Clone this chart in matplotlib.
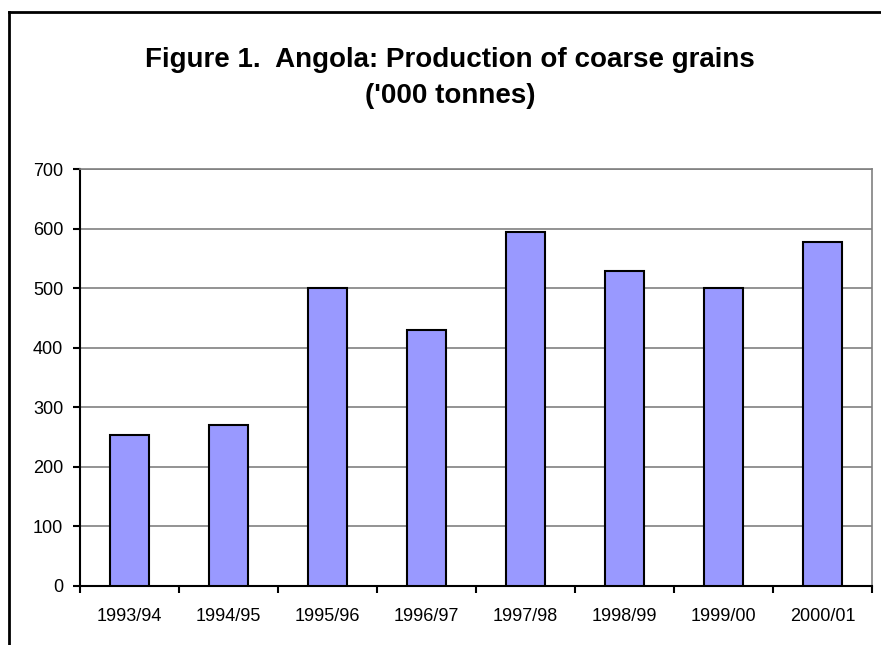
import matplotlib
matplotlib.use("Agg")
import matplotlib.pyplot as plt
from matplotlib.lines import Line2D
import numpy as np

# Production of coarse grains, '000 tonnes
seasons = ["1993/94", "1994/95", "1995/96", "1996/97", "1997/98", "1998/99", "1999/00", "2000/01"]
production = [253, 270, 500, 430, 595, 528, 500, 578]
yticks = [0, 100, 200, 300, 400, 500, 600, 700]

plt.rcParams['font.family'] = ['Liberation Sans', 'DejaVu Sans']

fig = plt.figure(figsize=(8.81, 6.45), dpi=100)
ax = fig.add_axes([80 / 881, 1 - 586 / 645, 792 / 881, 417 / 645])

x = np.arange(len(seasons))
ax.bar(x, production, width=0.4, color="#9999FF", edgecolor="black", linewidth=1.5, zorder=3)

ax.set_xlim(-0.5, len(seasons) - 0.5)
ax.set_ylim(0, 700)
ax.set_yticks(yticks)
ax.yaxis.grid(True, color="#808080", linewidth=1.2, zorder=0)

# ticks between the categories, labels centred under the bars
ax.set_xticks(np.arange(len(seasons) + 1) - 0.5)
ax.set_xticklabels([])
ax.set_xticks(x, minor=True)
ax.set_xticklabels(seasons, minor=True, fontsize=13)
ax.tick_params(axis="x", which="minor", length=0, pad=16)
ax.tick_params(axis="x", which="major", length=5, width=1.5, direction="out")
ax.tick_params(axis="y", length=5, width=1.5, direction="out", labelsize=13, pad=7)

for s in ["left", "bottom"]:
    ax.spines[s].set_linewidth(1.5)
    ax.spines[s].set_color("black")
for s in ["top", "right"]:
    ax.spines[s].set_linewidth(1.2)
    ax.spines[s].set_color("#808080")

fig.text(450 / 881, 1 - 67 / 645, "Figure 1.  Angola: Production of coarse grains",
         ha="center", va="baseline", fontsize=20, fontweight="bold")
fig.text(450 / 881, 1 - 103 / 645, "('000 tonnes)",
         ha="center", va="baseline", fontsize=20, fontweight="bold")

# figure frame (left and top edges visible)
fig.add_artist(Line2D([9 / 881, 1.0], [1 - 12 / 645, 1 - 12 / 645], color="black", linewidth=2, transform=fig.transFigure))
fig.add_artist(Line2D([9 / 881, 9 / 881], [0, 1 - 12 / 645], color="black", linewidth=2, transform=fig.transFigure))

fig.savefig("out.png", dpi=100)
